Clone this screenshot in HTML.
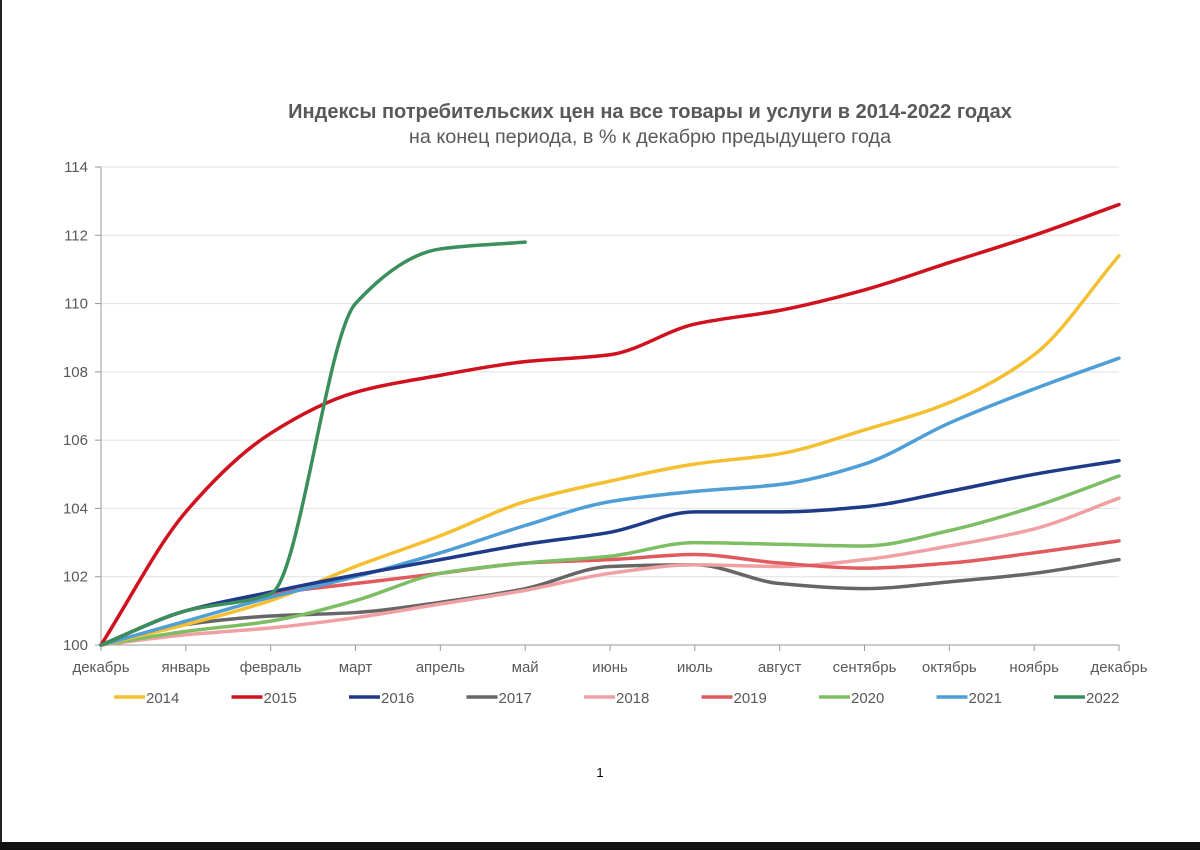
<!DOCTYPE html>
<html><head><meta charset="utf-8"><style>
body{margin:0;background:#fff;width:1200px;height:850px;overflow:hidden;position:relative;font-family:"Liberation Sans",sans-serif}
</style></head><body>
<div style="position:absolute;left:0;top:0;width:2px;height:850px;background:#222"></div>
<div style="position:absolute;left:0;top:842px;width:1200px;height:8px;background:#111"></div>
<svg id="chart" width="1200" height="850" style="position:absolute;left:0;top:0" font-family="Liberation Sans, sans-serif">
<text x="650" y="118" text-anchor="middle" font-size="20" font-weight="bold" fill="#595959">Индексы потребительских цен на все товары и услуги в 2014-2022 годах</text>
<text x="650" y="143" text-anchor="middle" font-size="19.8" fill="#595959">на конец периода, в % к декабрю предыдущего года</text>
<text x="600" y="777" text-anchor="middle" font-size="13" fill="#000">1</text>
</svg>
<script>
const months=["декабрь","январь","февраль","март","апрель","май","июнь","июль","август","сентябрь","октябрь","ноябрь","декабрь"];
const yTicks=[100,102,104,106,108,110,112,114];
const years=["2014","2015","2016","2017","2018","2019","2020","2021","2022"];
const colors=["#f4bf30","#d0121f","#1f3a88","#666666","#f0a0a3","#e05a5e","#7dbd63","#4f9fd6","#3a8f5c"];
const s2014=[100,100.6,101.3,102.3,103.2,104.2,104.8,105.3,105.6,106.3,107.1,108.5,111.4];
const s2015=[100,103.9,106.2,107.4,107.9,108.3,108.5,109.4,109.8,110.4,111.2,112.0,112.9];
const s2016=[100,101.0,101.55,102.05,102.5,102.95,103.3,103.9,103.9,104.05,104.5,105.0,105.4];
const s2017=[100,100.6,100.85,100.95,101.25,101.65,102.3,102.35,101.8,101.65,101.85,102.1,102.5];
const s2018=[100,100.3,100.5,100.8,101.2,101.6,102.1,102.35,102.3,102.5,102.9,103.4,104.3];
const s2019=[100,101.0,101.5,101.8,102.1,102.4,102.5,102.65,102.4,102.25,102.4,102.7,103.05];
const s2020=[100,100.4,100.7,101.3,102.1,102.4,102.6,103.0,102.95,102.9,103.35,104.05,104.95];
const s2021=[100,100.7,101.4,102.0,102.7,103.5,104.2,104.5,104.7,105.3,106.5,107.5,108.4];
const s2022=[100,101.0,101.5,110.0,111.6,111.8];
const series=[s2014,s2015,s2016,s2017,s2018,s2019,s2020,s2021,s2022];
const NS="http://www.w3.org/2000/svg",svg=document.getElementById('chart');
const X0=101,X1=1119,Y0=645,Y1=167;
const xs=i=>X0+(X1-X0)*i/(months.length-1);
const ys=v=>Y0-(v-100)/(114-100)*(Y0-Y1);
function mk(t,a){const e=document.createElementNS(NS,t);for(const k in a)e.setAttribute(k,a[k]);svg.appendChild(e);return e;}
yTicks.forEach(v=>{
 if(v>100){const g=mk('line',{x1:X0,x2:X1,y1:ys(v),y2:ys(v),stroke:'#e2e2e2','stroke-width':1});
 
 }
 const t=mk('text',{x:88,y:ys(v)+5,'text-anchor':'end','font-size':15,fill:'#595959'});t.textContent=v;
 
 
 const tk=mk('line',{x1:95,x2:X0,y1:ys(v),y2:ys(v),stroke:'#999'});
 
 
});
const ya=mk('line',{x1:X0,x2:X0,y1:Y1,y2:Y0,stroke:'#999'});


const xa=mk('line',{x1:X0,x2:X1,y1:Y0,y2:Y0,stroke:'#999'});


months.forEach((m,i)=>{
 const tk=mk('line',{x1:xs(i),x2:xs(i),y1:Y0,y2:Y0+6,stroke:'#999'});
 
 
 const t=mk('text',{x:xs(i),y:672,'text-anchor':'middle','font-size':15,fill:'#595959'});t.textContent=m;
 
 
});
function path(arr){
 const p=arr.map((v,i)=>[xs(i),ys(v)]);const n=p.length;
 const d0=[];for(let i=0;i<n-1;i++)d0.push((p[i+1][1]-p[i][1])/(p[i+1][0]-p[i][0]));
 const m=[];for(let i=0;i<n;i++){
  if(i==0)m.push(d0[0]);else if(i==n-1)m.push(d0[n-2]);
  else if(d0[i-1]*d0[i]<=0)m.push(0);
  else m.push(2/(1/d0[i-1]+1/d0[i]));}
 let d='M'+p[0][0]+','+p[0][1];
 for(let i=0;i<n-1;i++){const h=(p[i+1][0]-p[i][0])/3;
  d+=' C'+(p[i][0]+h)+','+(p[i][1]+m[i]*h)+' '+(p[i+1][0]-h)+','+(p[i+1][1]-m[i+1]*h)+' '+p[i+1][0]+','+p[i+1][1];}
 return d;}
const order=[3,4,5,6,0,7,2,1,8];
order.forEach(k=>{
 const l=mk('path',{d:path(series[k]),fill:'none',stroke:colors[k],'stroke-width':3.5,'stroke-linecap':'round'});
 
 
});
years.forEach((y,k)=>{
 const x=114+k*117.5;
 const l=mk('line',{x1:x,x2:x+31,y1:697,y2:697,stroke:colors[k],'stroke-width':3.5});
 
 
 const t=mk('text',{x:x+32,y:703,'font-size':15,fill:'#595959'});t.textContent=y;
 
 
});
</script>
</body></html>
